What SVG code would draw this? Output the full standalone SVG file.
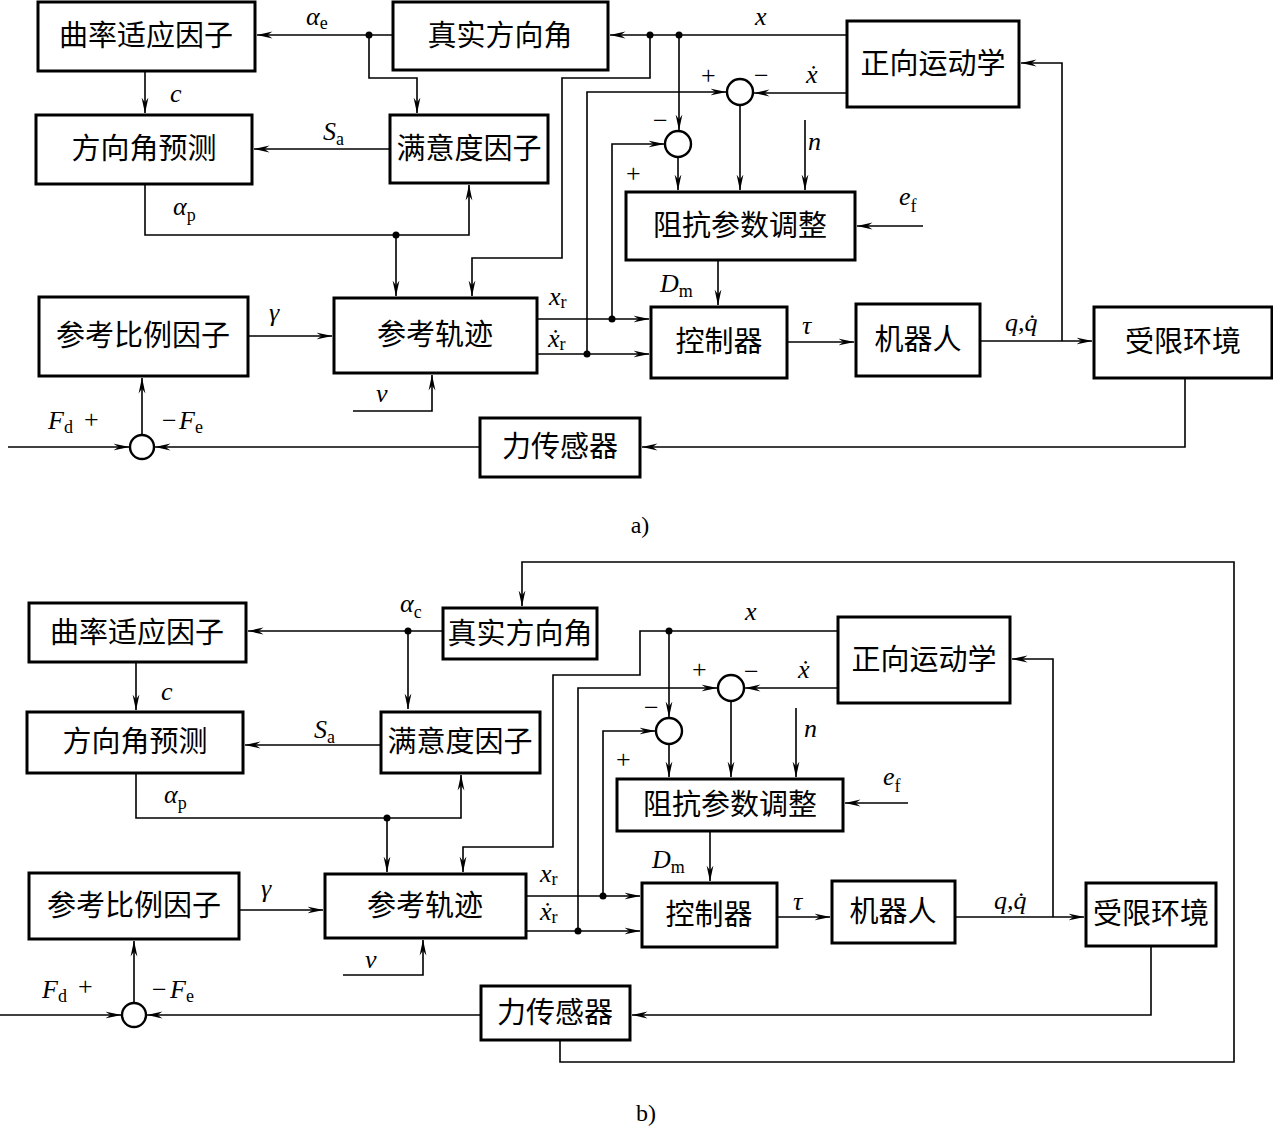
<svg xmlns="http://www.w3.org/2000/svg" width="1273" height="1130" viewBox="0 0 1273 1130">
<defs>
<marker id="ah" markerWidth="16" markerHeight="8" refX="15.5" refY="4" orient="auto" markerUnits="userSpaceOnUse">
<path d="M0,0.6 L16,4 L0,7.4 L5,4 z" fill="#000"/>
</marker>
<style>
.box{fill:#fff;stroke:#000;stroke-width:3}
.cn{font-family:"Noto Sans CJK SC","Noto Sans CJK TC",sans-serif;font-size:29px;text-anchor:middle;fill:#000}
.ln{fill:none;stroke:#000;stroke-width:1.6;marker-end:url(#ah)}
.sum{fill:#fff;stroke:#000;stroke-width:2.4}
.dot{fill:#000}
.m{font-family:"Liberation Serif",serif;font-style:italic;font-size:26px;fill:#000}
.s{font-family:"Liberation Serif",serif;font-style:normal;font-size:18px}
.pm{font-family:"Liberation Serif",serif;font-size:26px;fill:#000}
.cap{font-family:"Liberation Serif",serif;font-size:24px;fill:#000;text-anchor:middle}
</style>
</defs>
<rect width="1273" height="1130" fill="#fff"/>

<!-- ===== Diagram a) ===== -->
<g id="a-curv"><rect class="box" x="38" y="2" width="217" height="69"/><text class="cn" x="146" y="46">曲率适应因子</text></g>
<g id="a-true"><rect class="box" x="393" y="2" width="215" height="68"/><text class="cn" x="500" y="46">真实方向角</text></g>
<g id="a-fk"><rect class="box" x="847" y="21" width="172" height="86"/><text class="cn" x="933" y="74">正向运动学</text></g>
<g id="a-pred"><rect class="box" x="36" y="115" width="216" height="69"/><text class="cn" x="144" y="159">方向角预测</text></g>
<g id="a-sat"><rect class="box" x="390" y="115" width="158" height="68"/><text class="cn" x="469" y="159">满意度因子</text></g>
<g id="a-imp"><rect class="box" x="626" y="192" width="229" height="68"/><text class="cn" x="740" y="236">阻抗参数调整</text></g>
<g id="a-ref"><rect class="box" x="39" y="297" width="209" height="79"/><text class="cn" x="143" y="346">参考比例因子</text></g>
<g id="a-traj"><rect class="box" x="334" y="298" width="203" height="75"/><text class="cn" x="435" y="345">参考轨迹</text></g>
<g id="a-ctrl"><rect class="box" x="651" y="307" width="136" height="71"/><text class="cn" x="719" y="352">控制器</text></g>
<g id="a-robot"><rect class="box" x="856" y="304" width="124" height="72"/><text class="cn" x="918" y="350">机器人</text></g>
<g id="a-env"><rect class="box" x="1094" y="307" width="178" height="71"/><text class="cn" x="1183" y="352">受限环境</text></g>
<g id="a-force"><rect class="box" x="480" y="418" width="160" height="59"/><text class="cn" x="560" y="457">力传感器</text></g>
<g id="a-sum1"><circle class="sum" cx="740" cy="92" r="13"/></g>
<g id="a-sum2"><circle class="sum" cx="678" cy="144" r="13"/></g>
<g id="a-sum3"><circle class="sum" cx="142" cy="447" r="12"/></g>

<g id="a-connectors">
<path class="ln" d="M393,35 H257"/>
<path class="ln" d="M369,35 V78 H417 V113"/>
<path class="ln" d="M145,72 V113"/>
<path class="ln" d="M390,149 H254"/>
<path class="ln" d="M145,185 V235 H469 V185"/>
<path class="ln" d="M396,235 V296"/>
<path class="ln" d="M847,35 H610"/>
<path class="ln" d="M650,35 V78 H562 V258 H472 V296"/>
<path class="ln" d="M679,35 V130"/>
<path class="ln" d="M678,157 V190"/>
<path class="ln" d="M612,319 V144 H664"/>
<path class="ln" d="M587,354 V92 H726"/>
<path class="ln" d="M847,93 H754"/>
<path class="ln" d="M740,105 V190"/>
<path class="ln" d="M805,120 V190"/>
<path class="ln" d="M923,226 H857"/>
<path class="ln" d="M718,261 V305"/>
<path class="ln" d="M537,319 H649"/>
<path class="ln" d="M537,354 H649"/>
<path class="ln" d="M787,342 H854"/>
<path class="ln" d="M980,341 H1092"/>
<path class="ln" d="M1062,341 V63 H1021"/>
<path class="ln" d="M1185,378 V447 H642"/>
<path class="ln" d="M480,447 H155"/>
<path class="ln" d="M8,447 H129"/>
<path class="ln" d="M142,435 V378"/>
<path class="ln" d="M248,336 H332"/>
<path class="ln" d="M353,411 H432 V375"/>
<circle class="dot" cx="369" cy="35" r="3.5"/>
<circle class="dot" cx="396" cy="235" r="3.5"/>
<circle class="dot" cx="650" cy="35" r="3.5"/>
<circle class="dot" cx="679" cy="35" r="3.5"/>
<circle class="dot" cx="612" cy="319" r="3.5"/>
<circle class="dot" cx="587" cy="354" r="3.5"/>
</g>

<g id="a-labels">
<text class="m" x="306" y="25">α<tspan class="s" dy="4">e</tspan></text>
<text class="m" x="170" y="102">c</text>
<text class="m" x="323" y="140">S<tspan class="s" dy="5">a</tspan></text>
<text class="m" x="173" y="215">α<tspan class="s" dy="6">p</tspan></text>
<text class="m" x="755" y="25">x</text>
<text class="pm" x="701" y="84">+</text>
<text class="pm" x="754" y="84">−</text>
<text class="m" x="806" y="83">ẋ</text>
<text class="pm" x="653" y="129">−</text>
<text class="pm" x="626" y="182">+</text>
<text class="m" x="808" y="150">n</text>
<text class="m" x="899" y="205">e<tspan class="s" dy="7">f</tspan></text>
<text class="m" x="660" y="292">D<tspan class="s" dy="5">m</tspan></text>
<text class="m" x="549" y="305">x<tspan class="s" dy="3">r</tspan></text>
<text class="m" x="548" y="347">ẋ<tspan class="s" dy="3">r</tspan></text>
<text class="m" x="802" y="334">τ</text>
<text class="m" x="1005" y="331">q,q̇</text>
<text class="m" x="269" y="321">γ</text>
<text class="m" x="376" y="402">v</text>
<text class="m" x="48" y="429">F<tspan class="s" dy="4">d</tspan></text>
<text class="pm" x="84" y="428">+</text>
<text class="pm" x="162" y="429">−</text>
<text class="m" x="179" y="429">F<tspan class="s" dy="4">e</tspan></text>
<text class="cap" x="640" y="533">a)</text>
</g>

<!-- ===== Diagram b) ===== -->
<g id="b-curv"><rect class="box" x="29" y="603" width="217" height="59"/><text class="cn" x="137" y="643">曲率适应因子</text></g>
<g id="b-true"><rect class="box" x="443" y="608" width="154" height="51"/><text class="cn" x="520" y="644">真实方向角</text></g>
<g id="b-fk"><rect class="box" x="838" y="617" width="172" height="86"/><text class="cn" x="924" y="670">正向运动学</text></g>
<g id="b-pred"><rect class="box" x="27" y="712" width="216" height="61"/><text class="cn" x="135" y="752">方向角预测</text></g>
<g id="b-sat"><rect class="box" x="381" y="712" width="159" height="61"/><text class="cn" x="460" y="752">满意度因子</text></g>
<g id="b-imp"><rect class="box" x="617" y="779" width="226" height="52"/><text class="cn" x="730" y="815">阻抗参数调整</text></g>
<g id="b-ref"><rect class="box" x="29" y="873" width="210" height="66"/><text class="cn" x="134" y="916">参考比例因子</text></g>
<g id="b-traj"><rect class="box" x="325" y="874" width="201" height="64"/><text class="cn" x="425" y="916">参考轨迹</text></g>
<g id="b-ctrl"><rect class="box" x="642" y="883" width="135" height="64"/><text class="cn" x="709" y="925">控制器</text></g>
<g id="b-robot"><rect class="box" x="832" y="881" width="123" height="62"/><text class="cn" x="893" y="922">机器人</text></g>
<g id="b-env"><rect class="box" x="1086" y="883" width="130" height="63"/><text class="cn" x="1151" y="924">受限环境</text></g>
<g id="b-force"><rect class="box" x="481" y="986" width="149" height="54"/><text class="cn" x="555" y="1023">力传感器</text></g>
<g id="b-sum1"><circle class="sum" cx="731" cy="688" r="13"/></g>
<g id="b-sum2"><circle class="sum" cx="669" cy="731" r="13"/></g>
<g id="b-sum3"><circle class="sum" cx="134" cy="1015" r="12"/></g>

<g id="b-connectors">
<path class="ln" d="M560,1041 V1062 H1234 V562 H522 V606"/>
<path class="ln" d="M443,631 H248"/>
<path class="ln" d="M408,631 V709"/>
<path class="ln" d="M136,663 V710"/>
<path class="ln" d="M381,745 H245"/>
<path class="ln" d="M136,774 V818 H461 V775"/>
<path class="ln" d="M387,818 V872"/>
<path class="ln" d="M838,631 H640 V675 H553 V847 H463 V872"/>
<path class="ln" d="M669,631 V717"/>
<path class="ln" d="M669,744 V777"/>
<path class="ln" d="M731,701 V777"/>
<path class="ln" d="M838,688 H745"/>
<path class="ln" d="M578,931 V688 H717"/>
<path class="ln" d="M603,896 V731 H655"/>
<path class="ln" d="M796,708 V777"/>
<path class="ln" d="M908,803 H845"/>
<path class="ln" d="M710,832 V881"/>
<path class="ln" d="M526,896 H640"/>
<path class="ln" d="M526,931 H640"/>
<path class="ln" d="M777,917 H830"/>
<path class="ln" d="M955,917 H1084"/>
<path class="ln" d="M1053,917 V659 H1012"/>
<path class="ln" d="M1151,946 V1015 H632"/>
<path class="ln" d="M481,1015 H147"/>
<path class="ln" d="M0,1015 H121"/>
<path class="ln" d="M134,1003 V941"/>
<path class="ln" d="M239,910 H323"/>
<path class="ln" d="M343,975 H423 V940"/>
<circle class="dot" cx="408" cy="631" r="3.5"/>
<circle class="dot" cx="387" cy="818" r="3.5"/>
<circle class="dot" cx="669" cy="631" r="3.5"/>
<circle class="dot" cx="603" cy="896" r="3.5"/>
<circle class="dot" cx="578" cy="931" r="3.5"/>
</g>

<g id="b-labels">
<text class="m" x="400" y="612">α<tspan class="s" dy="6">c</tspan></text>
<text class="m" x="161" y="700">c</text>
<text class="m" x="314" y="738">S<tspan class="s" dy="5">a</tspan></text>
<text class="m" x="164" y="803">α<tspan class="s" dy="6">p</tspan></text>
<text class="m" x="745" y="620">x</text>
<text class="pm" x="692" y="678">+</text>
<text class="pm" x="744" y="680">−</text>
<text class="m" x="798" y="678">ẋ</text>
<text class="pm" x="644" y="716">−</text>
<text class="pm" x="616" y="768">+</text>
<text class="m" x="804" y="737">n</text>
<text class="m" x="883" y="785">e<tspan class="s" dy="7">f</tspan></text>
<text class="m" x="652" y="868">D<tspan class="s" dy="5">m</tspan></text>
<text class="m" x="540" y="882">x<tspan class="s" dy="3">r</tspan></text>
<text class="m" x="540" y="920">ẋ<tspan class="s" dy="3">r</tspan></text>
<text class="m" x="793" y="910">τ</text>
<text class="m" x="994" y="909">q,q̇</text>
<text class="m" x="261" y="897">γ</text>
<text class="m" x="365" y="968">v</text>
<text class="m" x="42" y="998">F<tspan class="s" dy="4">d</tspan></text>
<text class="pm" x="78" y="995">+</text>
<text class="pm" x="152" y="998">−</text>
<text class="m" x="170" y="998">F<tspan class="s" dy="4">e</tspan></text>
<text class="cap" x="646" y="1121">b)</text>
</g>
</svg>
